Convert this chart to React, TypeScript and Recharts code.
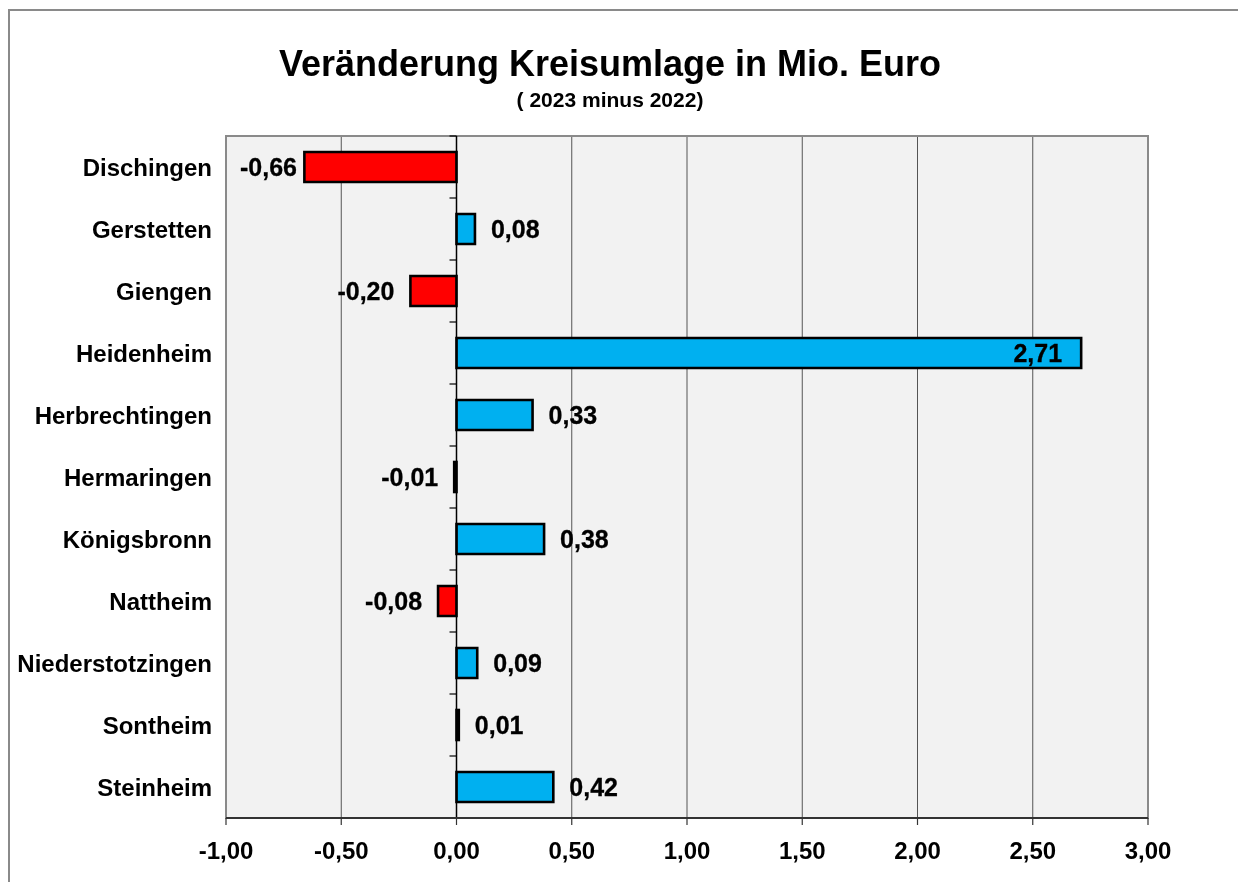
import React from "react";
import {
  BarChart,
  Bar,
  XAxis,
  YAxis,
  CartesianGrid,
  ReferenceLine,
  ReferenceArea,
  LabelList,
  Cell,
} from "recharts";

const categories = [
  "Dischingen",
  "Gerstetten",
  "Giengen",
  "Heidenheim",
  "Herbrechtingen",
  "Hermaringen",
  "Königsbronn",
  "Nattheim",
  "Niederstotzingen",
  "Sontheim",
  "Steinheim",
];
const changes = [-0.66, 0.08, -0.2, 2.71, 0.33, -0.01, 0.38, -0.08, 0.09, 0.01, 0.42];
const xTicks = [-1, -0.5, 0, 0.5, 1, 1.5, 2, 2.5, 3];

const title = "Veränderung Kreisumlage in Mio. Euro";
const subtitle = "( 2023 minus 2022)";

const data = categories.map((name, i) => ({ name, value: changes[i] }));

const FONT = "Arial, 'Liberation Sans', Helvetica, sans-serif";
const W = 1226;
const H = 866;
const MARGIN = { top: 128, right: 86, left: 0, bottom: 6 };
const Y_WIDTH = 218;
const PLOT_LEFT = MARGIN.left + Y_WIDTH;
const PLOT_RIGHT = W - MARGIN.right;

const fmt = (v: number) => v.toFixed(2).replace(".", ",");

const textW = (s: string, size: number) => {
  let w = 0;
  for (const ch of s) {
    if (ch === "-") w += 0.333;
    else if (ch === ",") w += 0.278;
    else w += 0.556;
  }
  return w * size;
};

const renderLabel = (props: any) => {
  const { x, y, width, height, value } = props;
  const v = Number(value);
  const left = Math.min(x, x + width);
  const right = Math.max(x, x + width);
  const cy = y + height / 2;
  const s = fmt(v);
  const size = 25;
  const tw = textW(s, size);
  let tx: number;
  let anchor: "start" | "end";
  if (v >= 0) {
    if (right + 16 + tw > PLOT_RIGHT - 30) {
      tx = right - 19;
      anchor = "end";
    } else {
      tx = right + 16;
      anchor = "start";
    }
  } else {
    tx = Math.max(left - 16, PLOT_LEFT + 14 + tw);
    anchor = "end";
  }
  return (
    <text
      x={tx}
      y={cy}
      dy="0.36em"
      textAnchor={anchor}
      fontFamily={FONT}
      fontWeight="bold"
      fontSize={size}
      fill="#000"
      stroke="#000"
      strokeWidth={0.3}
    >
      {s}
    </text>
  );
};

const ZeroAxis = (props: any) => {
  const { x1, y1, x2, y2 } = props;
  const n = categories.length;
  const top = Math.min(y1, y2);
  const bottom = Math.max(y1, y2);
  const step = (bottom - top) / n;
  const ticks = [];
  for (let i = 0; i <= n; i++) {
    const ty = top + i * step;
    ticks.push(<line key={i} x1={x1 - 7} x2={x1} y1={ty} y2={ty} stroke="#000" strokeWidth={1.2} />);
  }
  return (
    <g>
      <line x1={x1} y1={y1} x2={x2} y2={y2} stroke="#000" strokeWidth={1.5} />
      {ticks}
    </g>
  );
};

export default function App() {
  return (
    <div style={{ position: "relative", width: 1226, height: 866, fontFamily: FONT }}>
      <div
        style={{
          position: "fixed",
          left: 8,
          top: 9,
          width: 1300,
          height: 1000,
          borderLeft: "2px solid #8a8a8a",
          borderTop: "2px solid #8a8a8a",
          boxSizing: "border-box",
          pointerEvents: "none",
        }}
      />
      <div
        style={{
          position: "absolute",
          left: 102,
          width: 1000,
          top: 38,
          textAlign: "center",
          fontSize: 36,
          lineHeight: "36px",
          fontWeight: "bold",
          color: "#000",
        }}
      >
        {title}
      </div>
      <div
        style={{
          position: "absolute",
          left: 102,
          width: 1000,
          top: 81,
          textAlign: "center",
          fontSize: 21,
          lineHeight: "21px",
          fontWeight: "bold",
          color: "#000",
        }}
      >
        {subtitle}
      </div>
      <div style={{ position: "absolute", left: 0, top: 0 }}>
        <BarChart width={W} height={H} data={data} layout="vertical" margin={MARGIN}>
          <CartesianGrid horizontal={false} vertical stroke="#555" strokeWidth={1} fill="#f2f2f2" />
          <ReferenceArea x1={-1} x2={3} fill="none" stroke="#8a8a8a" strokeWidth={2} />
          <XAxis
            type="number"
            domain={[-1, 3]}
            ticks={xTicks}
            tickFormatter={fmt}
            interval={0}
            axisLine={{ stroke: "#333", strokeWidth: 2 }}
            tickLine={{ stroke: "#333", strokeWidth: 1.2 }}
            tickSize={7}
            tickMargin={17}
            height={50}
            tick={{ fontSize: 24, fontWeight: "bold", fill: "#000", fontFamily: FONT }}
          />
          <YAxis
            type="category"
            dataKey="name"
            width={Y_WIDTH}
            axisLine={false}
            tickLine={false}
            tickSize={0}
            tickMargin={14}
            interval={0}
            tick={{ fontSize: 24, fontWeight: "bold", fill: "#000", fontFamily: FONT }}
          />
          <ReferenceLine x={0} shape={<ZeroAxis />} />
          <Bar dataKey="value" barSize={30} stroke="#000" strokeWidth={2.6} isAnimationActive={false}>
            {data.map((d, i) => (
              <Cell key={i} fill={d.value < 0 ? "#ff0000" : "#00b0f0"} />
            ))}
            <LabelList dataKey="value" content={renderLabel} />
          </Bar>
        </BarChart>
      </div>
    </div>
  );
}
